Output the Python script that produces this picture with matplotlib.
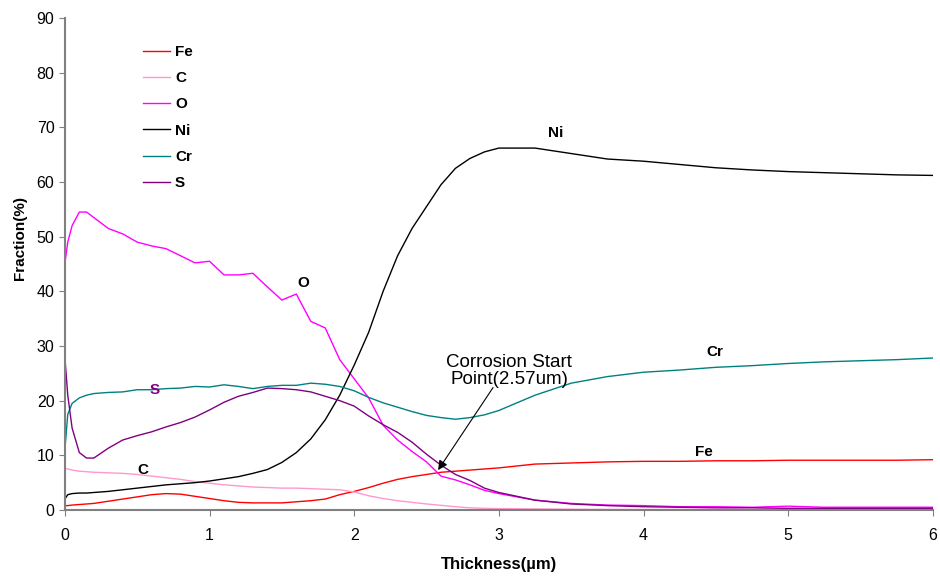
import matplotlib
matplotlib.use('Agg')
import matplotlib.pyplot as plt

plt.rcParams['font.family'] = ['Liberation Sans', 'DejaVu Sans']

# depth grid (um) and element fractions (%)
depth = [0, 0.02, 0.05, 0.1, 0.15, 0.2, 0.3, 0.4, 0.5, 0.6, 0.7, 0.8, 0.9, 1.0,
         1.1, 1.2, 1.3, 1.4, 1.5, 1.6, 1.7, 1.8, 1.9, 2.0, 2.1, 2.2, 2.3, 2.4,
         2.5, 2.6, 2.7, 2.8, 2.9, 3.0, 3.25, 3.5, 3.75, 4.0, 4.25, 4.5, 4.75,
         5.0, 5.25, 5.5, 5.75, 6.0]

fe = [0.8, 0.8, 0.9, 1.0, 1.1, 1.2, 1.6, 2.0, 2.4, 2.8, 3.0, 2.9, 2.5, 2.1,
      1.7, 1.4, 1.3, 1.3, 1.3, 1.5, 1.7, 2.0, 2.8, 3.4, 4.1, 4.9, 5.6, 6.1,
      6.5, 6.9, 7.1, 7.3, 7.5, 7.7, 8.4, 8.6, 8.8, 8.9, 8.9, 9.0, 9.0,
      9.1, 9.1, 9.1, 9.1, 9.2]

c = [7.6, 7.5, 7.3, 7.1, 7.0, 6.9, 6.8, 6.7, 6.5, 6.2, 5.9, 5.6, 5.2, 4.9,
     4.6, 4.4, 4.2, 4.1, 4.0, 4.0, 3.9, 3.8, 3.7, 3.3, 2.6, 2.1, 1.7, 1.4,
     1.1, 0.85, 0.6, 0.4, 0.3, 0.25, 0.2, 0.15, 0.1, 0.1, 0.1, 0.1, 0.1,
     0.1, 0.1, 0.1, 0.1, 0.1]

o = [45, 49, 52, 54.5, 54.5, 53.5, 51.5, 50.5, 49, 48.3, 47.8, 46.5, 45.2, 45.5,
     43, 43, 43.3, 40.8, 38.4, 39.5, 34.5, 33.3, 27.5, 24, 20.5, 15.5, 12.8, 10.7,
     8.8, 6.2, 5.5, 4.6, 3.6, 3.0, 1.8, 1.2, 0.9, 0.8, 0.6, 0.6, 0.5,
     0.7, 0.5, 0.5, 0.5, 0.5]

ni = [2.0, 2.8, 3.0, 3.1, 3.1, 3.2, 3.4, 3.7, 4.0, 4.3, 4.6, 4.8, 5.0, 5.3,
      5.7, 6.1, 6.7, 7.4, 8.7, 10.5, 13, 16.5, 21, 26.5, 32.5, 40, 46.5, 51.5,
      55.5, 59.5, 62.5, 64.3, 65.5, 66.2, 66.2, 65.2, 64.2, 63.8, 63.2, 62.6, 62.2,
      61.9, 61.7, 61.5, 61.3, 61.2]

cr = [11, 17.5, 19.5, 20.5, 21.0, 21.3, 21.5, 21.6, 22, 22, 22.2, 22.3, 22.6, 22.5,
      22.9, 22.6, 22.2, 22.6, 22.8, 22.8, 23.2, 23, 22.6, 21.8, 20.6, 19.6, 18.8, 18,
      17.3, 16.9, 16.6, 16.9, 17.4, 18.2, 21, 23.2, 24.4, 25.2, 25.6, 26.1, 26.4,
      26.8, 27.1, 27.3, 27.5, 27.8]

s = [28, 21, 15, 10.5, 9.5, 9.5, 11.3, 12.8, 13.6, 14.3, 15.2, 16, 17, 18.3,
     19.7, 20.8, 21.5, 22.3, 22.2, 22, 21.6, 20.8, 20, 19, 17.2, 15.6, 14.2, 12.4,
     10.2, 8.2, 6.5, 5.4, 4.0, 3.2, 1.8, 1.1, 0.8, 0.6, 0.5, 0.4, 0.4,
     0.3, 0.3, 0.3, 0.3, 0.3]

names = ['Fe', 'C', 'O', 'Ni', 'Cr', 'S']
series = [fe, c, o, ni, cr, s]
colors = ['#FF0000', '#FF99CC', '#FF00FF', '#000000', '#008080', '#800080']

fig = plt.figure(figsize=(9.4, 5.76), dpi=100)
ax = fig.add_axes([0.069, 0.1146, 0.9234, 0.8542])

for name, vals, col in zip(names, series, colors):
    ax.plot(depth, vals, color=col, lw=1.0, label=name)

ax.set_xlim(0, 6)
ax.set_ylim(0, 90)
ax.set_xticks(range(0, 7))
ax.set_yticks(range(0, 91, 10))
ax.tick_params(labelsize=11.5, direction='out', length=4, color='#808080')
ax.tick_params(axis='x', pad=9)
for side in ['top', 'right']:
    ax.spines[side].set_visible(False)
for side in ['left', 'bottom']:
    ax.spines[side].set_color('#808080')
    ax.spines[side].set_linewidth(1.5)

ax.set_xlabel('Thickness(µm)', fontsize=12, fontweight='bold', labelpad=10)
ax.set_ylabel('Fraction(%)', fontsize=11, fontweight='bold')
ax.yaxis.set_label_coords(-0.044, 0.553)

leg = ax.legend(loc='upper left', bbox_to_anchor=(0.09, 0.945), frameon=False,
                borderpad=0, borderaxespad=0, handlelength=1.8, handletextpad=0.3,
                labelspacing=0.8, prop={'weight': 'bold', 'size': 11})

lab = dict(fontsize=11, fontweight='bold', ha='center', va='center')
ax.text(3.39, 69, 'Ni', **lab)
ax.text(4.49, 28.9, 'Cr', **lab)
ax.text(4.42, 10.6, 'Fe', **lab)
ax.text(1.65, 41.5, 'O', **lab)
ax.text(0.62, 22, 'S', color='#800080', **lab)
ax.text(0.54, 7.3, 'C', **lab)

ax.text(3.07, 25.4, 'Corrosion Start\nPoint(2.57um)', fontsize=13.5,
        ha='center', va='center', multialignment='center', linespacing=1.0)
ax.annotate('', xy=(2.58, 7.3), xytext=(2.96, 22.4),
            arrowprops=dict(arrowstyle='-|>', color='black', lw=0.8,
                            mutation_scale=14, shrinkA=0, shrinkB=0))

fig.savefig('out.png', dpi=100)
